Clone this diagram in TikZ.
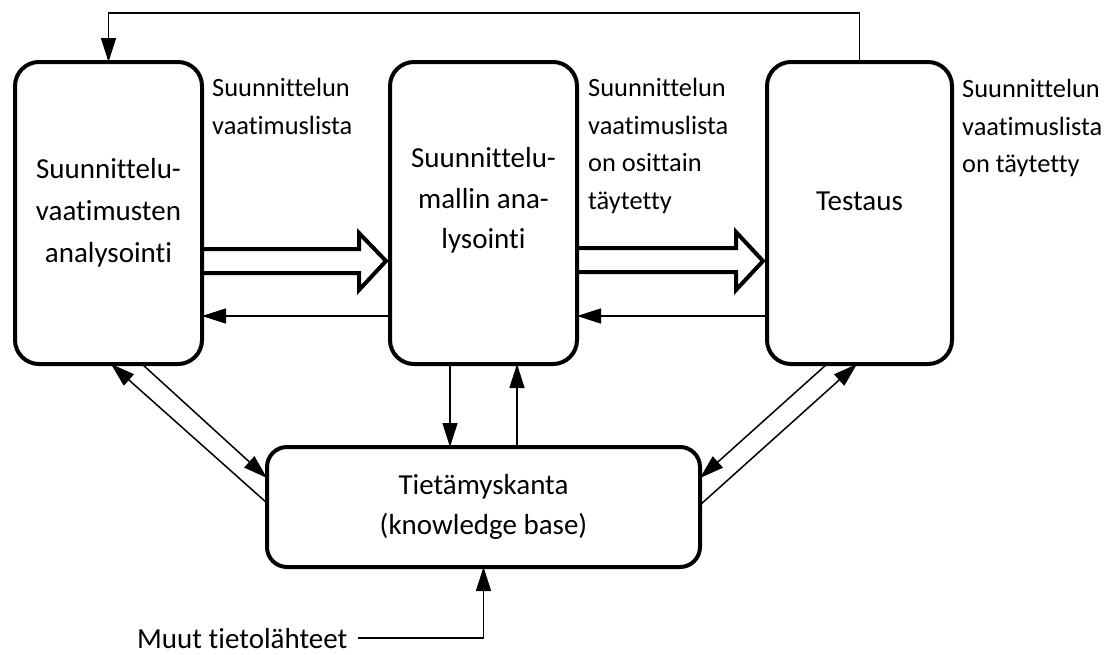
\documentclass[tikz,border=0pt]{standalone}
\usepackage{fontspec}
\setmainfont{Carlito}[Ligatures={NoCommon}]
\usetikzlibrary{arrows.meta,calc}
\begin{document}
\begin{tikzpicture}[x=1pt,y=-1pt,
  box/.style={draw, line width=4pt, rounded corners=24pt, inner sep=0pt, outer sep=0pt, align=center, font=\fontsize{29}{42}\selectfont},
  boxtext/.style={align=center, inner sep=0pt, font=\fontsize{29}{40.5}\selectfont},
  lab/.style={align=left, inner sep=0pt, anchor=north west, font=\fontsize{26.4}{37.5}\selectfont},
  arr/.style={line width=1.5pt, -{Triangle[length=24pt,width=15pt]}},
  hollow/.style={line width=4pt, miter limit=10, line join=miter}]
\useasboundingbox (0,0) rectangle (1114,654);
% boxes
\node[box, minimum width=187pt, minimum height=302pt] (A) at (108.5,213) {Suunnittelu-\\vaatimusten\\analysointi};
\node[box, minimum width=187pt, minimum height=302pt] (B) at (483.5,213) {};
\node[box, minimum width=185pt, minimum height=302pt] (C) at (859.5,213) {};
\node[box, rounded corners=20pt, minimum width=433pt, minimum height=120pt, font=\fontsize{29}{40}\selectfont] (D) at (483.5,507) {Tietämyskanta\\(knowledge base)};
\node[boxtext] (Bt) at (483.5,200.5) {Suunnittelu-\\mallin ana-\\lysointi};
\node[boxtext] (Ct) at (859.5,201) {Testaus};
% labels
\node[lab] (La) at (212,78) {Suunnittelun\\vaatimuslista};
\node[lab] (Lb) at (588,78) {Suunnittelun\\vaatimuslista\\on osittain\\täytetty};
\node[lab] (Lc) at (962,79) {Suunnittelun\\vaatimuslista\\on täytetty};
\node[anchor=base west, inner ysep=0pt, inner xsep=10pt, font=\fontsize{29}{35}\selectfont] (M) at (127,648) {Muut tietolähteet};
% hollow arrows
\draw[hollow] (A.east |- 0,249) -- (359,249) -- (359,233) -- (386,261) -- (359,290) -- (359,273) -- (A.east |- 0,273);
\draw[hollow] (B.east |- 0,248) -- (736,248) -- (736,232) -- (763,261) -- (736,290) -- (736,272) -- (B.east |- 0,272);
% return arrows
\draw[arr] (B.west |- 0,316) -- (A.east |- 0,316);
\draw[arr] (C.west |- 0,316) -- (B.east |- 0,316);
% top loop
\draw[arr] (C.north) -- (C.north |- 0,13) -| (A.north);
% to/from knowledge base
\draw[arr] (D.west |- 0,503) -- (111,0 |- A.south);
\draw[arr] (142,0 |- A.south) -- (D.west |- 0,478);
\draw[arr] (827,0 |- C.south) -- (D.east |- 0,478);
\draw[arr] (D.east |- 0,505) -- (857,0 |- C.south);
\draw[arr] (450,0 |- B.south) -- (450,0 |- D.north);
\draw[arr] (517,0 |- D.north) -- (517,0 |- B.south);
\draw[arr] (M.east) -| (D.south);
\end{tikzpicture}
\end{document}
